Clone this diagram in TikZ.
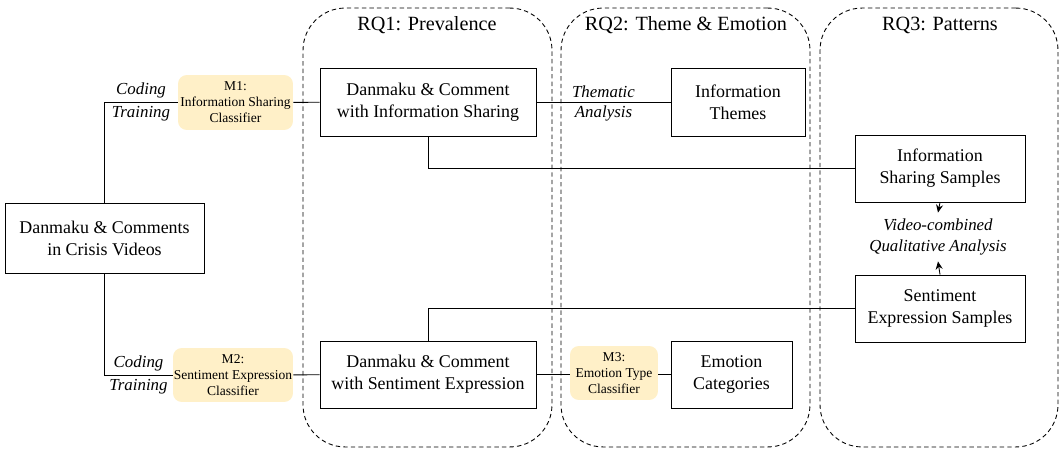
\documentclass[tikz,border=0pt]{standalone}
\usepackage{fontspec}
\setmainfont{Liberation Serif}
\usepackage{xcolor}
\usetikzlibrary{positioning, arrows.meta}
\definecolor{modelfill}{HTML}{FFF0C8}

\begin{document}
\begin{tikzpicture}[x=0.02cm, y=-0.02cm, line width=0.5pt,
    every node/.style={font=\fontsize{10.2}{12.5}\selectfont, align=center},
    databox/.style={draw, rectangle, inner sep=0pt},
    modelbox/.style={rectangle, fill=modelfill, rounded corners=5pt, inner sep=0pt, font=\fontsize{7.7}{9.1}\selectfont},
    rqframe/.style={draw, dash pattern=on 2.5pt off 1.8pt, rounded corners=24pt, inner sep=0pt, minimum height=8.78cm},
    rqtitle/.style={font=\fontsize{11.5}{13}\selectfont},
    steplabel/.style={font=\fontsize{9.6}{11.5}\itshape\selectfont, inner sep=2pt}]
        \useasboundingbox (0,0) rectangle (1062,456);
        % Research question frames
        \node[rqframe, minimum width=4.98cm] (rq1) at (427.5,227.5) {};
        \node[rqframe, minimum width=4.98cm] (rq2) at (685.5,227.5) {};
        \node[rqframe, minimum width=4.76cm] (rq3) at (939,227.5) {};
        \node[rqtitle] (rq1title) at (427,25) {RQ1: Prevalence};
        \node[rqtitle] (rq2title) at (686,25) {RQ2: Theme \& Emotion};
        \node[rqtitle] (rq3title) at (940,25) {RQ3: Patterns};
        % Components
        \node[databox, minimum width=3.98cm, minimum height=1.4cm] (source) at (104.5,238) {Danmaku \& Comments\\in Crisis Videos};
        \node[modelbox, minimum width=2.3cm, minimum height=1.1cm] (m1) at (235.5,102.5) {M1:\\Information Sharing\\Classifier};
        \node[modelbox, minimum width=2.4cm, minimum height=1.08cm] (m2) at (233,375) {M2:\\Sentiment Expression\\Classifier};
        \node[databox, minimum width=4.32cm, minimum height=1.36cm] (infoset) at (428,102) {Danmaku \& Comment\\with Information Sharing};
        \node[databox, minimum width=4.32cm, minimum height=1.34cm] (sentset) at (428,374.5) {Danmaku \& Comment\\with Sentiment Expression};
        \node[databox, minimum width=2.68cm, minimum height=1.36cm] (themes) at (738,102) {Information\\Themes};
        \node[modelbox, minimum width=1.76cm, minimum height=1.08cm] (m3) at (614,373) {M3:\\Emotion Type\\Classifier};
        \node[databox, minimum width=2.42cm, minimum height=1.34cm] (emotions) at (731.5,374.5) {Emotion\\Categories};
        \node[databox, minimum width=3.4cm, minimum height=1.34cm] (infosamples) at (940,168.5) {Information\\Sharing Samples};
        \node[databox, minimum width=3.4cm, minimum height=1.34cm] (sentsamples) at (940,308.5) {Sentiment\\Expression Samples};
        \node[steplabel, inner sep=0pt, minimum height=0.96cm] (qualitative) at (938,237) {Video-combined\\Qualitative Analysis};
        % Connectors
        \draw (source.north) |- (m1.west) node[steplabel, pos=0.75, above] {Coding} node[steplabel, pos=0.75, below] {Training};
        \draw (source.south) |- (m2.west) node[steplabel, pos=0.75, above] {Coding} node[steplabel, pos=0.75, below] {Training};
        \draw (m1) -- (infoset);
        \draw (m2) -- (sentset);
        \draw (infoset) -- (themes) node[steplabel, midway, above] {Thematic} node[steplabel, midway, below] {Analysis};
        \draw (sentset.east) -- (m3.west |- sentset.east);
        \draw (m3.east |- emotions.west) -- (emotions.west);
        \draw (infoset.south) |- (infosamples.west);
        \draw (sentsamples.west) -| (sentset.north);
        \draw[-{Stealth[length=4.5pt, width=4pt]}] (infosamples.south) -- (qualitative.north);
        \draw[-{Stealth[length=4.5pt, width=4pt]}] (sentsamples.north) -- (qualitative.south);
    \end{tikzpicture}
\end{document}
